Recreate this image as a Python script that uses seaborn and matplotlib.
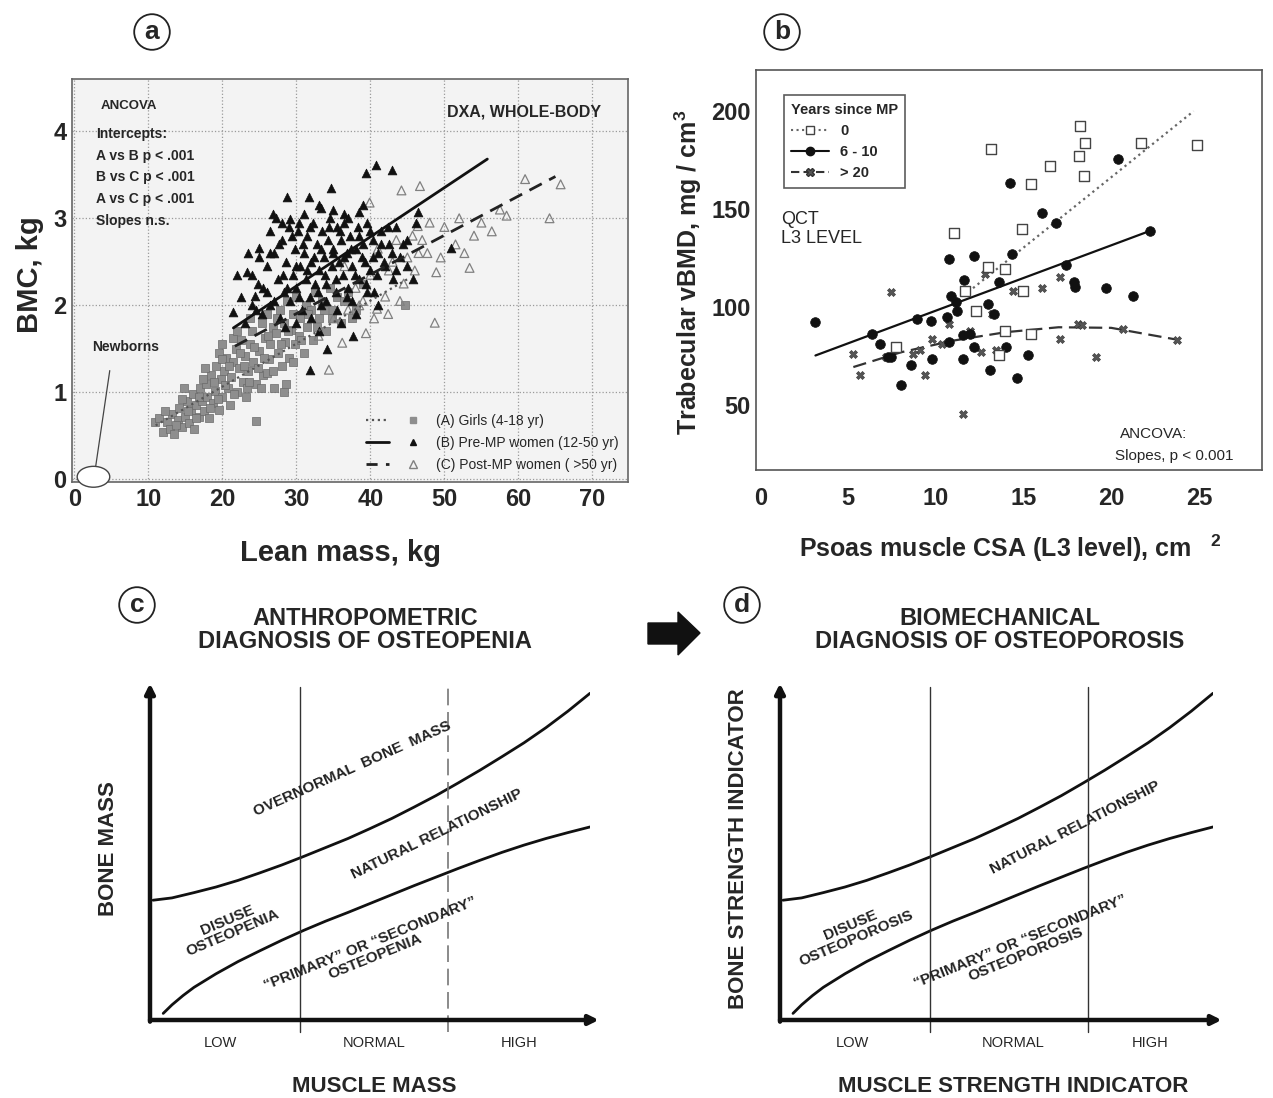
import matplotlib
matplotlib.use("Agg")
import matplotlib.pyplot as plt
import seaborn as sns
from matplotlib import font_manager
from matplotlib.lines import Line2D
from matplotlib.patches import Ellipse, Polygon
from matplotlib.legend_handler import HandlerTuple

# ---- panel a : DXA whole body, BMC vs lean mass ----
girls_x = [10.9, 11.5, 12.0, 12.5, 13.0, 13.2, 13.5, 14.0, 14.2, 14.5, 15.0, 15.2, 15.5, 15.8,
           16.0, 16.2, 16.5, 16.8, 17.0, 17.2, 17.5, 17.8, 18.0, 18.2, 18.5, 18.8, 19.0, 19.2,
           19.5, 19.8, 20.0, 20.2, 20.5, 20.8, 21.0, 21.2, 21.5, 21.8, 22.0, 22.2, 22.5, 22.8,
           23.0, 23.2, 23.5, 23.8, 24.0, 24.2, 24.5, 24.6, 25.0, 25.3, 25.5, 25.8, 26.0, 26.3,
           26.5, 26.8, 27.0, 27.2, 27.5, 27.8, 28.0, 28.3, 28.5, 28.8, 29.0, 29.3, 29.5, 29.8,
           30.0, 30.3, 30.5, 31.0, 31.3, 31.5, 32.0, 32.3, 32.5, 33.0, 33.5, 34.0, 34.5, 35.0,
           35.5, 36.0, 37.0, 38.0, 39.0, 44.7, 28.4, 28.6, 14.8, 17.6, 19.6, 21.4, 23.4, 26.0,
           12.2, 13.8, 14.6, 15.4, 16.4, 16.9, 17.4, 18.4, 18.9, 19.4, 19.9, 20.4, 20.9, 21.6,
           22.4, 22.9, 23.6, 24.3, 24.8, 25.6, 26.2, 26.8, 27.4, 27.9, 28.9, 29.6, 30.6, 31.6,
           32.8, 33.8, 34.8, 36.5, 37.5, 25.2, 22.0, 20.0, 23.8]
girls_y = [0.66, 0.70, 0.55, 0.66, 0.58, 0.75, 0.52, 0.68, 0.82, 0.60, 0.72, 0.90, 0.65, 0.80,
           0.98, 0.58, 0.85, 0.72, 1.05, 0.90, 0.78, 1.10, 0.95, 0.70, 1.20, 0.88, 1.02, 1.30,
           0.80, 1.15, 0.95, 1.25, 1.40, 1.05, 0.85, 1.18, 1.35, 1.50, 1.00, 1.28, 1.60, 1.12,
           1.42, 0.95, 1.25, 1.55, 1.70, 1.35, 1.10, 0.67, 1.48, 1.80, 1.20, 1.62, 1.90, 1.38,
           1.55, 1.75, 1.05, 1.68, 1.45, 1.95, 1.30, 1.80, 1.58, 2.05, 1.40, 1.72, 1.90, 1.55,
           2.10, 1.65, 1.85, 1.45, 2.00, 1.75, 1.95, 1.60, 2.15, 1.85, 2.05, 1.70, 2.20, 1.95,
           2.10, 1.80, 2.15, 1.95, 2.25, 2.00, 1.00, 1.10, 1.05, 1.28, 1.45, 1.62, 1.05, 1.22,
           0.78, 0.62, 0.92, 0.78, 0.70, 0.95, 1.15, 0.82, 1.12, 0.92, 1.38, 1.08, 1.30, 0.98,
           1.45, 1.30, 1.12, 1.52, 1.28, 1.40, 1.65, 1.25, 1.85, 1.55, 1.70, 1.35, 1.60, 1.90,
           1.75, 1.95, 1.85, 2.05, 1.85, 1.05, 1.70, 1.55, 1.85]

premp_x = [39.4, 40.8, 42.9, 34.7, 28.7, 31.7, 26.9, 29.1, 30.4, 33.4, 36.4, 38.4, 24.9, 23.4,
           21.4, 24.4, 31.9, 37.7, 34.1, 45.7, 50.9, 46.2, 46.4, 25.5, 26.0, 26.5, 27.0, 27.5,
           27.8, 28.0, 28.3, 28.6, 29.0, 29.2, 29.5, 29.8, 30.0, 30.2, 30.5, 30.8, 31.0, 31.3,
           31.5, 31.8, 32.0, 32.3, 32.5, 32.8, 33.0, 33.3, 33.5, 33.8, 34.0, 34.3, 34.5, 34.8,
           35.0, 35.3, 35.5, 35.8, 36.0, 36.3, 36.5, 36.8, 37.0, 37.3, 37.5, 38.0, 38.3, 38.5,
           39.0, 39.3, 39.5, 40.0, 40.3, 40.5, 41.0, 41.5, 42.0, 42.5, 43.0, 43.5, 44.0, 45.0,
           22.5, 23.0, 24.0, 24.5, 25.0, 26.5, 27.2, 28.5, 36.0, 38.0, 33.0, 41.0,
           24.0, 24.8, 25.3, 26.0, 26.4, 27.0, 27.6, 28.2, 28.8, 29.4, 29.9, 30.4, 30.9, 31.4,
           31.9, 32.4, 32.9, 33.4, 33.9, 34.4, 34.9, 35.4, 35.9, 36.4, 36.9, 37.4, 37.9, 38.4,
           38.9, 39.4, 39.9, 40.4, 40.9, 41.4, 41.9, 42.4, 42.9, 43.4, 44.4, 44.9, 30.0, 32.0,
           34.0, 35.5, 37.5, 39.5, 28.0, 31.0, 33.0, 35.0, 37.0, 39.0, 23.5, 22.0]
premp_y = [3.52, 3.61, 3.56, 3.35, 3.24, 3.24, 3.05, 2.99, 2.95, 3.12, 3.05, 3.07, 2.66, 2.38,
           1.92, 2.11, 1.26, 1.65, 1.50, 2.30, 2.66, 2.95, 3.07, 2.20, 2.45, 2.00, 2.60, 2.30,
           1.85, 2.75, 2.15, 2.50, 2.90, 2.05, 2.35, 2.65, 2.20, 2.85, 2.45, 1.95, 2.60, 2.30,
           2.80, 2.10, 2.50, 2.95, 2.25, 2.70, 2.40, 2.00, 2.85, 2.55, 2.25, 2.75, 3.00, 2.45,
           2.65, 2.15, 2.90, 2.50, 2.75, 2.35, 2.95, 2.60, 2.20, 2.80, 2.45, 2.65, 2.90, 2.30,
           2.70, 2.50, 2.95, 2.40, 2.75, 2.15, 2.60, 2.85, 2.45, 2.70, 2.30, 2.90, 2.55, 2.75,
           2.10, 1.80, 2.35, 1.95, 2.55, 2.85, 3.00, 1.75, 1.80, 1.90, 1.70, 2.00,
           2.00, 2.25, 1.90, 2.15, 2.60, 2.05, 2.70, 2.35, 2.20, 2.80, 2.45, 2.10, 2.70, 2.40,
           2.90, 2.55, 2.15, 2.65, 2.35, 2.90, 2.60, 2.30, 2.85, 2.55, 2.10, 2.65, 2.35, 2.80,
           2.55, 2.25, 2.85, 2.55, 2.35, 2.70, 2.50, 2.90, 2.60, 2.40, 2.70, 2.45, 1.80, 1.85,
           2.05, 1.95, 2.05, 2.15, 2.95, 3.05, 3.15, 3.10, 3.00, 3.15, 2.60, 2.35]

postmp_x = [46.7, 44.2, 60.9, 65.7, 58.4, 64.2, 56.4, 52.7, 48.9, 53.4, 47.7, 48.7, 42.4, 40.9,
            39.4, 36.2, 34.4, 39.9, 46.4, 45.7, 38.0, 40.0, 42.0, 43.0, 44.5, 45.0, 41.0, 37.0,
            35.0, 39.0, 46.0, 47.0, 50.0, 51.5, 55.0, 57.5, 33.0, 36.5, 42.5, 44.0, 46.5, 48.0,
            49.5, 43.5, 40.5, 38.5, 52.0, 54.0]
postmp_y = [3.37, 3.32, 3.45, 3.39, 3.03, 3.00, 2.85, 2.60, 2.38, 2.43, 2.60, 1.80, 1.90, 1.96,
            1.68, 1.57, 1.26, 3.18, 2.91, 2.80, 2.20, 2.35, 2.10, 2.50, 2.25, 2.55, 2.65, 1.95,
            1.85, 2.05, 2.40, 2.75, 2.90, 2.70, 2.95, 3.10, 1.65, 2.45, 2.40, 2.05, 2.60, 2.95,
            2.55, 2.75, 1.85, 2.00, 3.00, 2.80]

# regression line end points (lean mass, BMC)
fit_girls_x, fit_girls_y = [11.0, 45.0], [0.62, 2.30]
fit_premp_x, fit_premp_y = [21.5, 55.8], [1.74, 3.68]
fit_postmp_x, fit_postmp_y = [21.7, 65.0], [1.53, 3.48]

a_xticks = [0, 10, 20, 30, 40, 50, 60, 70]
a_yticks = [0, 1, 2, 3, 4]
ancova_a = ["Intercepts:", "A vs B p < .001", "B vs C p < .001", "A vs C p < .001", "Slopes n.s."]

# ---- panel b : QCT L3, vBMD vs psoas CSA ----
yrs0_x = [13.16, 18.23, 18.48, 18.19, 18.44, 16.5, 15.42, 21.68, 24.9, 11.04, 14.94, 12.95,
          13.92, 11.66, 15.0, 12.28, 7.76, 15.42, 13.61, 13.92]
yrs0_y = [180.5, 192.4, 183.9, 177.1, 167.0, 172.0, 162.7, 183.9, 182.7, 138.1, 139.8, 120.3,
          119.5, 108.5, 108.1, 98.3, 79.7, 86.4, 75.4, 88.1]
yrs6_x = [3.14, 6.38, 6.83, 8.93, 9.71, 10.74, 12.17, 11.6, 13.61, 14.23, 16.07, 16.85, 14.35,
          20.39, 22.23, 17.41, 17.88, 17.92, 19.73, 21.27, 10.84, 11.15, 11.19, 12.99, 13.3,
          10.74, 11.56, 8.58, 9.81, 8.03, 13.1, 14.64, 15.26, 14.03, 12.17, 11.56, 11.97, 10.64,
          7.45, 7.25]
yrs6_y = [92.4, 86.4, 81.4, 94.1, 93.2, 124.6, 126.3, 113.9, 112.7, 163.6, 148.3, 142.9, 127.1,
          175.4, 139.0, 121.7, 112.7, 110.2, 109.8, 105.9, 105.9, 102.5, 98.3, 101.7, 96.6,
          82.2, 85.6, 70.3, 73.7, 60.2, 67.8, 64.0, 75.4, 79.7, 79.7, 73.7, 86.4, 94.9,
          74.6, 74.6]
yrs20_x = [7.45, 5.29, 5.7, 7.14, 9.41, 9.1, 9.81, 11.56, 12.79, 13.2, 16.03, 17.1, 17.1, 18.13,
           18.33, 20.69, 23.77, 19.16, 14.43, 12.58, 10.74, 11.97, 13.41, 8.68, 10.33]
yrs20_y = [107.6, 76.3, 65.3, 74.6, 65.3, 78.0, 83.9, 45.8, 116.9, 96.6, 109.8, 115.3, 83.9, 91.5,
           90.7, 89.0, 83.4, 74.6, 108.5, 77.1, 91.5, 88.1, 78.0, 76.3, 81.4]

fit0_x, fit0_y = [11.6, 24.7], [106.0, 200.0]
fit6_x, fit6_y = [3.14, 22.23], [75.4, 139.0]
fit20_x = [5.3, 8.0, 11.0, 14.0, 17.0, 20.0, 23.8]
fit20_y = [69.5, 77.0, 83.0, 87.3, 89.8, 89.5, 83.4]

b_xticks = [0, 5, 10, 15, 20, 25]
b_yticks = [50, 100, 150, 200]

# ---- panels c / d : schematic curves (0-100 units) ----
upper_x = [0.7, 5, 10, 15, 20, 25, 30, 35, 40, 45, 50, 55, 60, 65, 70, 75, 80, 85, 90, 95, 100]
upper_y = [36.3, 37.0, 38.6, 40.3, 42.3, 44.6, 47.0, 49.6, 52.3, 55.0, 58.0, 61.1, 64.5, 68.0,
           71.8, 75.7, 79.8, 84.0, 88.6, 93.6, 99.0]
lower_x = [3, 5, 7.5, 10, 15, 20, 25, 30, 35, 40, 45, 50, 55, 60, 65, 70, 75, 80, 85, 90, 95, 100]
lower_y = [2.0, 4.6, 7.4, 9.9, 14.0, 17.7, 21.0, 24.2, 27.2, 30.0, 32.6, 35.3, 38.0, 40.7, 43.3,
           45.9, 48.4, 50.8, 53.0, 55.0, 56.8, 58.5]
zones = ["LOW", "NORMAL", "HIGH"]

# ------------------------------------------------
sns.set_style("white")
names = {f.name for f in font_manager.fontManager.ttflist}
COND = "Liberation Sans Narrow" if "Liberation Sans Narrow" in names else "Liberation Sans"
plt.rcParams["font.family"] = [COND, "DejaVu Sans"]
plt.rcParams["mathtext.default"] = "regular"
plt.rcParams["font.weight"] = "bold"

W, H = 1273, 1098
fig = plt.figure(figsize=(W / 100, H / 100), dpi=100)


def fx(px):
    return px / W


def fy(py):
    return 1 - py / H


def circ(px, py, letter):
    fig.text(fx(px), fy(py), letter, fontsize=19, fontweight="bold", ha="center", va="center",
             bbox=dict(boxstyle="circle,pad=0.22", fc="white", ec="#222", lw=1.3))


# ===== panel a =====
ax_a = fig.add_axes([fx(72), fy(482), fx(628 - 72), (482 - 79) / H])
ax_a.set_facecolor("#f3f3f3")
sns.scatterplot(x=girls_x, y=girls_y, ax=ax_a, marker="s", s=30, color="#8e8e8e",
                edgecolor="#6a6a6a", linewidth=0.5, zorder=3)
sns.scatterplot(x=postmp_x, y=postmp_y, ax=ax_a, marker="^", s=40, facecolor="none",
                edgecolor="#808080", linewidth=0.9, zorder=3)
sns.scatterplot(x=premp_x, y=premp_y, ax=ax_a, marker="^", s=40, color="#111",
                edgecolor="#111", zorder=4)
sns.lineplot(x=fit_girls_x, y=fit_girls_y, ax=ax_a, color="#555", lw=1.6, ls=":", zorder=5)
sns.lineplot(x=fit_premp_x, y=fit_premp_y, ax=ax_a, color="#111", lw=2.0, zorder=5)
sns.lineplot(x=fit_postmp_x, y=fit_postmp_y, ax=ax_a, color="#222", lw=2.0, ls=(0, (5, 3)),
             zorder=5)
ax_a.set_xlim(-0.3, 74.8)
ax_a.set_ylim(-0.03, 4.6)
ax_a.set_xticks(a_xticks)
ax_a.set_yticks(a_yticks)
ax_a.grid(True, ls=":", color="#9a9a9a", lw=0.9)
ax_a.tick_params(length=0, labelsize=17, pad=4)
for s in ax_a.spines.values():
    s.set_color("#666")
    s.set_linewidth(1.2)

ax_a.text(3.6, 4.29, "ANCOVA", fontsize=9.5, va="center")
for i, t in enumerate(ancova_a):
    ax_a.text(2.9, 3.97 - i * 0.25, t, fontsize=10, va="center")
ax_a.text(71.2, 4.22, "DXA, WHOLE-BODY", fontsize=11.5, ha="right", va="center")
ax_a.text(6.9, 1.52, "Newborns", fontsize=10, ha="center", va="center")
ax_a.plot([4.8, 2.9], [1.25, 0.15], color="#444", lw=0.9)
ax_a.add_patch(Ellipse((2.6, 0.03), 4.4, 0.24, fc="white", ec="#444", lw=1.0, zorder=6,
                       clip_on=False))

hA = (Line2D([], [], ls=":", color="#555", lw=1.6),
      Line2D([], [], marker="s", ls="", color="#8e8e8e", ms=5))
hB = (Line2D([], [], ls="-", color="#111", lw=2),
      Line2D([], [], marker="^", ls="", color="#111", ms=5))
hC = (Line2D([], [], ls=(0, (4, 3)), color="#222", lw=2),
      Line2D([], [], marker="^", ls="", mfc="none", mec="#808080", ms=6))
ax_a.legend([hA, hB, hC], ["(A) Girls (4-18 yr)", "(B) Pre-MP women (12-50 yr)",
                           "(C) Post-MP women ( >50 yr)"],
            handler_map={tuple: HandlerTuple(ndivide=None, pad=0.9)}, handlelength=4.2,
            loc="lower right", frameon=False, labelspacing=0.6,
            borderaxespad=0.3, prop={"weight": "normal", "size": 10})

fig.text(fx(30), fy(275), "BMC, kg", rotation=90, fontsize=21, ha="center", va="center")
fig.text(fx(340), fy(553), "Lean mass, kg", fontsize=21, ha="center", va="center")
circ(152, 32, "a")

# ===== panel b =====
ax_b = fig.add_axes([fx(756), fy(470), fx(1262 - 756), (470 - 70) / H])
sns.lineplot(x=fit0_x, y=fit0_y, ax=ax_b, color="#666", lw=1.6, ls=":", zorder=2)
sns.lineplot(x=fit6_x, y=fit6_y, ax=ax_b, color="#111", lw=1.6, zorder=2)
sns.lineplot(x=fit20_x, y=fit20_y, ax=ax_b, color="#333", lw=1.6, ls=(0, (6, 3)), zorder=2)
sns.scatterplot(x=yrs20_x, y=yrs20_y, ax=ax_b, marker="X", s=34, color="#555",
                edgecolor="#333", linewidth=0.4, zorder=3)
sns.scatterplot(x=yrs6_x, y=yrs6_y, ax=ax_b, marker="o", s=48, color="#111",
                edgecolor="#111", zorder=4)
sns.scatterplot(x=yrs0_x, y=yrs0_y, ax=ax_b, marker="s", s=52, facecolor="white",
                edgecolor="#444", linewidth=1.0, zorder=5)
ax_b.set_xlim(-0.25, 28.6)
ax_b.set_ylim(17, 221)
ax_b.set_xticks(b_xticks)
ax_b.set_yticks(b_yticks)
ax_b.tick_params(axis="y", length=0, labelsize=17, pad=4)
ax_b.tick_params(axis="x", length=0, labelsize=17, pad=12)
for s in ax_b.spines.values():
    s.set_color("#555")
    s.set_linewidth(1.2)

hb = [Line2D([], [], ls=":", color="#666", marker="s", mfc="white", mec="#444", ms=6),
      Line2D([], [], ls="-", color="#111", marker="o", mfc="#111", mec="#111", ms=6),
      Line2D([], [], ls=(0, (4, 2)), color="#333", marker="X", mfc="#555", mec="#333", ms=6)]
leg = ax_b.legend(hb, ["0", "6 - 10", "> 20"], title="Years since MP", loc="upper left",
                  bbox_to_anchor=(0.04, 0.955), frameon=True, fancybox=False, edgecolor="#333",
                  fontsize=10.5, title_fontsize=10.5, handlelength=2.6, borderpad=0.5,
                  labelspacing=0.5, alignment="left")
leg.get_frame().set_linewidth(1.2)
ax_b.text(1.2, 145, "QCT", fontsize=13, va="center", fontweight="normal")
ax_b.text(1.2, 135, "L3 LEVEL", fontsize=13, va="center", fontweight="normal")
ax_b.text(20.5, 35.5, "ANCOVA:", fontsize=11, va="center", fontweight="normal")
ax_b.text(20.2, 24, "Slopes, p < 0.001", fontsize=11, va="center", fontweight="normal")

fig.text(fx(688), fy(272), "Trabecular vBMD, mg / cm$^{3}$", rotation=90, fontsize=18,
         ha="center", va="center")
fig.text(fx(1010), fy(548), "Psoas muscle CSA (L3 level), cm $^{\\ \\ 2}$", fontsize=18,
         ha="center", va="center")
circ(782, 32, "b")


# ===== panels c and d =====
def schematic(ax, vlines, vstyles, texts, ylab, xlab, zone_x):
    ax.set_xlim(0, 100)
    ax.set_ylim(0, 100)
    ax.axis("off")
    sns.lineplot(x=upper_x, y=upper_y, ax=ax, color="#111", lw=2.0)
    sns.lineplot(x=lower_x, y=lower_y, ax=ax, color="#111", lw=2.0)
    for xv, st in zip(vlines, vstyles):
        ax.plot([xv, xv], [-3.5, 101], clip_on=False, **st)
    ax.annotate("", xy=(102, 0), xytext=(0, 0), annotation_clip=False,
                arrowprops=dict(arrowstyle="-|>", lw=3.2, color="#111", mutation_scale=14,
                                shrinkA=0, shrinkB=0))
    ax.annotate("", xy=(0, 102), xytext=(0, -0.5), annotation_clip=False,
                arrowprops=dict(arrowstyle="-|>", lw=3.2, color="#111", mutation_scale=14,
                                shrinkA=0, shrinkB=0))
    for (tx, ty, txt, rot) in texts:
        ax.text(tx, ty, txt, rotation=rot, rotation_mode="anchor", ha="center", va="center",
                fontsize=11, fontweight="bold", color="#222", multialignment="center",
                linespacing=0.95)
    for zx, z in zip(zone_x, zones):
        ax.text(zx, -7, z, fontsize=10.5, ha="center", va="center", fontweight="normal")
    ax.text(-9.5, 52, ylab, rotation=90, fontsize=16, ha="center", va="center",
            clip_on=False)
    ax.text(zone_x[1], -20, xlab, fontsize=16, ha="center", va="center")


ax_c = fig.add_axes([fx(150), fy(1020), fx(440), 330 / H])
schematic(ax_c, [34.1, 67.7],
          [dict(color="#333", lw=1.0), dict(color="#777", lw=1.2, ls=(0, (10, 4)))],
          [(46.1, 76.1, "OVERNORMAL  BONE  MASS", 24),
           (65.2, 56.4, "NATURAL RELATIONSHIP", 26),
           (18.2, 28.2, "DISUSE\nOSTEOPENIA", 23),
           (50.7, 21.2, "\u201cPRIMARY\u201d OR \u201cSECONDARY\u201d\nOSTEOPENIA", 22)],
          "BONE MASS", "MUSCLE MASS", [16, 51, 84])
ax_d = fig.add_axes([fx(780), fy(1020), fx(433), 330 / H])
schematic(ax_d, [34.6, 71.1],
          [dict(color="#333", lw=1.0), dict(color="#333", lw=1.0)],
          [(68.1, 58.2, "NATURAL RELATIONSHIP", 27),
           (16.9, 26.7, "DISUSE\nOSTEOPOROSIS", 23),
           (56.1, 21.8, "\u201cPRIMARY\u201d OR \u201cSECONDARY\u201d\nOSTEOPOROSIS", 22)],
          "BONE STRENGTH INDICATOR", "MUSCLE STRENGTH INDICATOR", [16.6, 53.8, 85.5])

fig.text(fx(365), fy(630), "ANTHROPOMETRIC\nDIAGNOSIS OF OSTEOPENIA", fontsize=17,
         ha="center", va="center", linespacing=1.05)
fig.text(fx(1000), fy(630), "BIOMECHANICAL\nDIAGNOSIS OF OSTEOPOROSIS", fontsize=17,
         ha="center", va="center", linespacing=1.05)
circ(137, 605, "c")
circ(742, 605, "d")

# block arrow between c and d
arrow_px = [(648, 623), (678, 623), (678, 612), (700, 633), (678, 655), (678, 644), (648, 644)]
fig.add_artist(Polygon([(fx(px), fy(py)) for px, py in arrow_px], closed=True,
                       transform=fig.transFigure, fc="#111", ec="#111"))

fig.savefig("out.png", dpi=100)
